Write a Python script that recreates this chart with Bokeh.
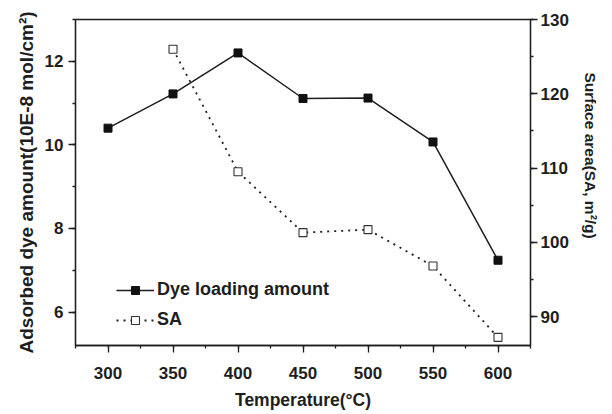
import math
from bokeh.plotting import figure
from bokeh.models import Range1d, LinearAxis, SingleIntervalTicker, Legend, LegendItem, Title
from bokeh.embed import file_html
from bokeh.resources import INLINE

# ---- data ----
temperature = [300, 350, 400, 450, 500, 550, 600]
dye_loading = [10.40, 11.22, 12.20, 11.11, 11.12, 10.07, 7.24]
sa_temperature = [350, 400, 450, 500, 550, 600]
surface_area = [126.0, 109.5, 101.3, 101.7, 96.8, 87.2]

FONT = "Liberation Sans"
INK = "#1e1e1e"

W, H = 610, 412
p = figure(width=W, height=H, output_backend="svg", toolbar_location=None,
           x_range=Range1d(275, 625), y_range=Range1d(5.2, 13.0),
           min_border_left=75, min_border_right=W - 532, min_border_top=19,
           min_border_bottom=H - 345)
p.extra_y_ranges = {"sa": Range1d(86.1, 130)}
p.xgrid.visible = False
p.ygrid.visible = False
p.outline_line_color = INK
p.outline_line_width = 1.3
p.background_fill_color = "white"
p.border_fill_color = "white"


def style_axis(ax, standoff):
    ax.axis_line_color = INK
    ax.axis_line_width = 1.3
    ax.major_tick_line_color = INK
    ax.minor_tick_line_color = INK
    ax.major_tick_line_width = 1.3
    ax.minor_tick_line_width = 1.3
    ax.major_tick_out = 7
    ax.major_tick_in = 0
    ax.minor_tick_out = 3
    ax.minor_tick_in = 0
    ax.major_label_text_font = FONT
    ax.major_label_text_font_style = "bold"
    ax.major_label_text_font_size = "17px"
    ax.major_label_text_color = INK
    ax.major_label_standoff = standoff
    ax.axis_label_text_font = FONT
    ax.axis_label_text_font_style = "bold"
    ax.axis_label_text_font_size = "17.5px"
    ax.axis_label_text_color = INK


xa = p.xaxis[0]
xa.ticker = SingleIntervalTicker(interval=50, num_minor_ticks=2)
xa.axis_label = "Temperature(°C)"
style_axis(xa, 14)
xa.axis_label_standoff = 8

ya = p.yaxis[0]
ya.ticker = SingleIntervalTicker(interval=2, num_minor_ticks=2)
ya.axis_label = "Adsorbed dye amount(10E-8 mol/cm²)"
style_axis(ya, 5)
ya.axis_label_text_font_size = "19px"
ya.axis_label_standoff = 5

ra = LinearAxis(y_range_name="sa",
                ticker=SingleIntervalTicker(interval=10, num_minor_ticks=2))
style_axis(ra, 3)
p.add_layout(ra, "right")

right_title = Title(text="Surface area(SA, m²/g)", align="left", offset=53,
                    standoff=20, text_font=FONT, text_font_style="bold",
                    text_font_size="15.5px", text_color=INK)
p.add_layout(right_title, "right")

# ---- series ----
dye_line = p.line(temperature, dye_loading, line_color=INK, line_width=1.5)
dye_pts = p.scatter(temperature, dye_loading, marker="square", size=8,
                    fill_color="#111111", line_color="#111111")

sa_line = p.line(sa_temperature, surface_area, line_color=INK, line_width=1.8,
                 line_dash="2 5", y_range_name="sa")
sa_pts = p.scatter(sa_temperature, surface_area, marker="square", size=8,
                   fill_color="white", line_color="#333333", line_width=1.1,
                   y_range_name="sa")

legend = Legend(items=[
    LegendItem(label="Dye loading amount", renderers=[dye_line, dye_pts]),
    LegendItem(label="SA", renderers=[sa_line, sa_pts]),
], location=(41, 15))
legend.glyph_width = 38
legend.glyph_height = 20
legend.label_height = 20
legend.spacing = 9
legend.padding = 0
legend.margin = 0
legend.label_standoff = 3
legend.border_line_color = None
legend.background_fill_alpha = 0
legend.label_text_font = FONT
legend.label_text_font_style = "bold"
legend.label_text_font_size = "18px"
legend.label_text_color = INK
p.add_layout(legend, "center")

open("out.html", "w").write(file_html(p, INLINE))
